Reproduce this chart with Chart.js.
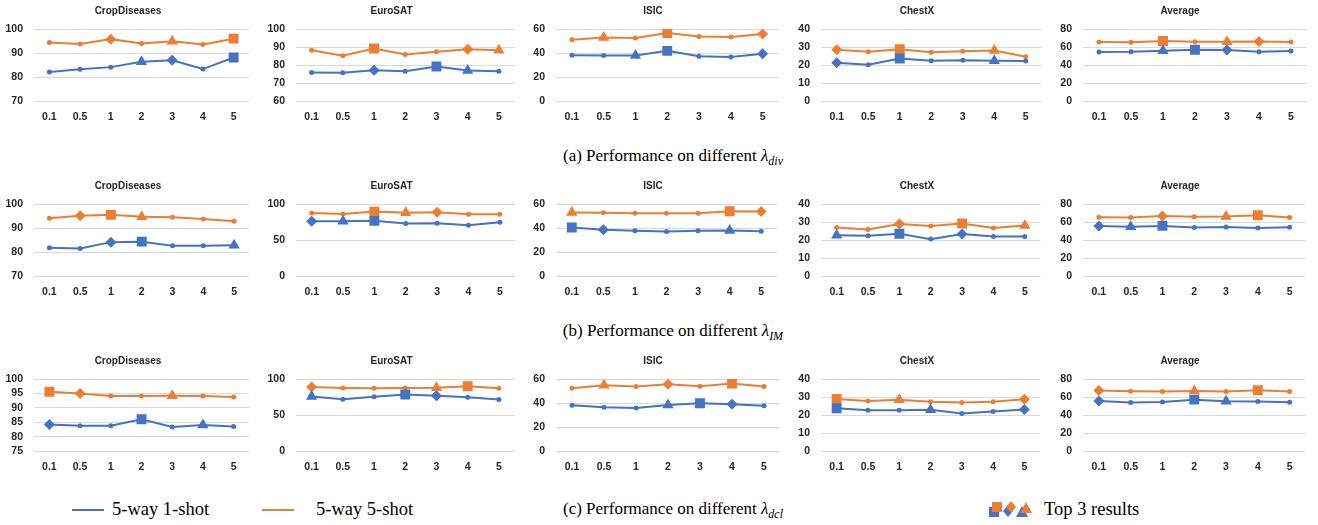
<!DOCTYPE html>
<html>
<head>
<meta charset="utf-8">
<script src="https://cdn.jsdelivr.net/npm/chart.js@4.4.0/dist/chart.umd.min.js"></script>
<style>
body { margin: 0; background: #fff; width: 1318px; height: 525px; position: relative; overflow: hidden; font-family: "Liberation Serif", serif; color: #000; }
.cell { position: absolute; }
.cap { position: absolute; left: 28px; width: 1290px; text-align: center; font-size: 17px; line-height: 20px; }
.cap sub { font-size: 12px; vertical-align: -4px; line-height: 0; }
.lg { position: absolute; font-size: 18.5px; line-height: 20px; }
.ln { position: absolute; height: 2px; }
</style>
</head>
<body>

<div class="cap" style="top:146px">(a) Performance on different <i>λ</i><sub><i>div</i></sub></div>
<div class="cap" style="top:321px">(b) Performance on different <i>λ</i><sub><i>IM</i></sub></div>
<div class="cap" style="top:499px">(c) Performance on different <i>λ</i><sub><i>dcl</i></sub></div>

<div class="ln" style="left:72px;top:509px;width:32px;background:#4472C4"></div>
<div class="lg" style="left:112px;top:499px">5-way 1-shot</div>
<div class="ln" style="left:262px;top:509px;width:32px;background:#ED7D31"></div>
<div class="lg" style="left:316px;top:499px">5-way 5-shot</div>
<canvas id="top3" width="50" height="22" style="position:absolute;left:986px;top:498px"></canvas>
<div class="lg" style="left:1044px;top:499px">Top 3 results</div>

<script>
const lambdas = ['0.1', '0.5', '1', '2', '3', '4', '5'];
const datasetNames = ['CropDiseases', 'EuroSAT', 'ISIC', 'ChestX', 'Average'];

// y axis ticks per row (div, IM, dcl) and column
const yMin = [[70, 60, 0, 0, 0], [70, 0, 0, 0, 0], [75, 0, 0, 0, 0]];
const yMax = [[100, 100, 60, 40, 80], [100, 100, 60, 40, 80], [100, 100, 60, 40, 80]];
const yStep = [[10, 10, 20, 10, 20], [10, 50, 20, 10, 20], [5, 50, 20, 10, 20]];

// (a) lambda_div
const div1Shot = [
  [82.2, 83.3, 84.2, 86.4, 87.0, 83.4, 88.2],
  [75.9, 75.8, 77.2, 76.6, 79.3, 77.1, 76.6],
  [38.3, 38.0, 38.1, 41.9, 37.5, 36.7, 39.5],
  [21.4, 20.3, 23.7, 22.5, 22.8, 22.4, 22.3],
  [54.5, 54.8, 55.9, 57.0, 56.8, 54.9, 55.6]
];
const div5Shot = [
  [94.4, 93.8, 95.8, 94.0, 94.9, 93.6, 96.0],
  [88.3, 85.2, 89.2, 85.9, 87.4, 88.8, 88.3],
  [51.0, 52.9, 52.6, 56.7, 53.7, 53.4, 55.9],
  [28.5, 27.4, 28.8, 27.2, 27.7, 28.1, 24.7],
  [65.5, 65.4, 66.7, 65.8, 66.0, 66.2, 65.6]
];
// (b) lambda_IM
const im1Shot = [
  [81.9, 81.6, 84.2, 84.4, 82.7, 82.7, 82.9],
  [76.3, 76.1, 76.7, 73.1, 73.5, 70.8, 74.9],
  [40.5, 38.6, 37.8, 37.3, 37.8, 38.0, 37.5],
  [22.7, 22.5, 23.6, 20.6, 23.4, 22.0, 22.1],
  [55.6, 54.9, 55.8, 53.9, 54.5, 53.4, 54.3]
];
const im5Shot = [
  [94.1, 95.1, 95.5, 94.7, 94.5, 93.8, 92.9],
  [87.6, 86.3, 89.5, 88.0, 88.6, 85.8, 85.8],
  [53.0, 52.8, 52.3, 52.3, 52.3, 54.0, 53.7],
  [27.0, 25.9, 28.9, 27.8, 29.2, 26.8, 28.1],
  [65.4, 65.0, 66.8, 66.0, 66.2, 67.6, 65.0]
];
// (c) lambda_dcl
const dcl1Shot = [
  [84.3, 83.9, 83.9, 86.1, 83.4, 84.1, 83.6],
  [75.8, 72.1, 75.6, 78.5, 76.7, 74.9, 71.7],
  [38.2, 36.5, 35.9, 38.4, 39.9, 39.1, 37.8],
  [23.8, 22.7, 22.7, 23.0, 21.0, 22.1, 23.2],
  [55.8, 53.9, 54.7, 57.2, 55.5, 55.2, 54.3]
];
const dcl5Shot = [
  [95.6, 95.0, 94.1, 94.1, 94.2, 94.1, 93.8],
  [89.0, 87.7, 87.2, 87.6, 87.9, 90.0, 87.2],
  [52.3, 54.8, 53.7, 55.6, 54.0, 56.2, 53.7],
  [29.0, 27.8, 28.5, 27.4, 27.0, 27.4, 28.8],
  [67.2, 66.4, 66.1, 66.8, 66.1, 67.5, 66.1]
];

// top 3 marks: 1 = square, 2 = diamond, 3 = triangle, 0 = plain
const divRank1 = [[0,0,0,3,2,0,1],[0,0,2,0,1,3,0],[0,0,3,1,0,0,2],[2,0,1,0,0,3,0],[0,0,3,1,2,0,0]];
const divRank5 = [[0,0,2,0,3,0,1],[0,0,1,0,0,2,3],[0,3,0,1,0,0,2],[2,0,1,0,0,3,0],[0,0,1,0,3,2,0]];
const imRank1 = [[0,0,2,1,0,0,3],[2,3,1,0,0,0,0],[1,2,0,0,0,3,0],[3,0,1,0,2,0,0],[2,3,1,0,0,0,0]];
const imRank5 = [[0,2,1,3,0,0,0],[0,0,1,3,2,0,0],[3,0,0,0,0,1,2],[0,0,2,0,1,0,3],[0,0,2,0,3,1,0]];
const dclRank1 = [[2,0,0,1,0,3,0],[3,0,0,1,2,0,0],[0,0,0,3,1,2,0],[1,0,0,3,0,0,2],[2,0,0,1,3,0,0]];
const dclRank5 = [[1,2,0,0,3,0,0],[2,0,0,0,3,1,0],[0,3,0,2,0,1,0],[1,0,3,0,0,0,2],[2,0,0,3,0,1,0]];

const rows = [
  { one: div1Shot, five: div5Shot, r1: divRank1, r5: divRank5 },
  { one: im1Shot, five: im5Shot, r1: imRank1, r5: imRank5 },
  { one: dcl1Shot, five: dcl5Shot, r1: dclRank1, r5: dclRank5 }
];

const BLUE = '#4472C4';
const ORANGE = '#ED7D31';
const shapes = ['circle', 'rect', 'rectRot', 'triangle'];
const radii = [2.5, 7, 5.5, 6.5];
const tickFont = { family: 'Liberation Sans', size: 10.5, weight: 'bold' };

const plotLeft = [34, 296, 556, 821, 1083];
const plotRight = [256, 521, 784, 1047, 1311];
const rowTop = [0, 175, 350];
const yAxisW = 34;

function line(label, data, ranks, color) {
  return {
    label: label,
    data: data,
    borderColor: color,
    backgroundColor: color,
    borderWidth: 2,
    tension: 0,
    pointStyle: ranks.map(r => shapes[r]),
    pointRadius: ranks.map(r => radii[r]),
    pointBorderWidth: 0,
    pointBackgroundColor: color
  };
}

rows.forEach((row, ri) => {
  datasetNames.forEach((name, ci) => {
    const left = plotLeft[ci] - yAxisW;
    const width = plotRight[ci] - left;
    const cv = document.createElement('canvas');
    cv.width = width;
    cv.height = 132;
    cv.className = 'cell';
    cv.style.left = left + 'px';
    cv.style.top = rowTop[ri] + 'px';
    document.body.appendChild(cv);

    new Chart(cv.getContext('2d'), {
      type: 'line',
      data: {
        labels: lambdas,
        datasets: [
          line('5-way 1-shot', row.one[ci], row.r1[ci], BLUE),
          line('5-way 5-shot', row.five[ci], row.r5[ci], ORANGE)
        ]
      },
      options: {
        responsive: false,
        animation: false,
        devicePixelRatio: 1,
        layout: { padding: 0 },
        plugins: {
          legend: { display: false },
          tooltip: { enabled: false },
          title: {
            display: true,
            text: name,
            color: '#262626',
            font: { family: 'Liberation Sans', size: 10, weight: 'bold' },
            padding: { top: 5, bottom: 12 }
          }
        },
        scales: {
          x: {
            offset: true,
            grid: { display: false, drawTicks: false },
            border: { display: false },
            ticks: { padding: 9, color: '#262626', autoSkip: false, maxRotation: 0, font: tickFont }
          },
          y: {
            min: yMin[ri][ci],
            max: yMax[ri][ci],
            afterFit: s => { s.width = yAxisW; },
            grid: { color: '#d9d9d9', lineWidth: 1, drawTicks: false },
            border: { display: false },
            ticks: { stepSize: yStep[ri][ci], autoSkip: false, padding: 11, color: '#262626', font: tickFont }
          }
        }
      }
    });
  });
});

// "Top 3 results" legend icons
const g = document.getElementById('top3').getContext('2d');
function sq(x, y, c) { g.fillStyle = c; g.fillRect(x, y, 10, 10); }
function dia(x, y, c) { g.fillStyle = c; g.beginPath(); g.moveTo(x, y - 6); g.lineTo(x + 5, y); g.lineTo(x, y + 6); g.lineTo(x - 5, y); g.closePath(); g.fill(); }
function tri(x, y, c) { g.fillStyle = c; g.beginPath(); g.moveTo(x, y - 6); g.lineTo(x + 6, y + 5); g.lineTo(x - 6, y + 5); g.closePath(); g.fill(); }
sq(3, 9, BLUE); sq(6, 4, ORANGE);
dia(22, 13, BLUE); dia(25, 9, ORANGE);
tri(36, 14, BLUE); tri(40, 10, ORANGE);
</script>
</body>
</html>
